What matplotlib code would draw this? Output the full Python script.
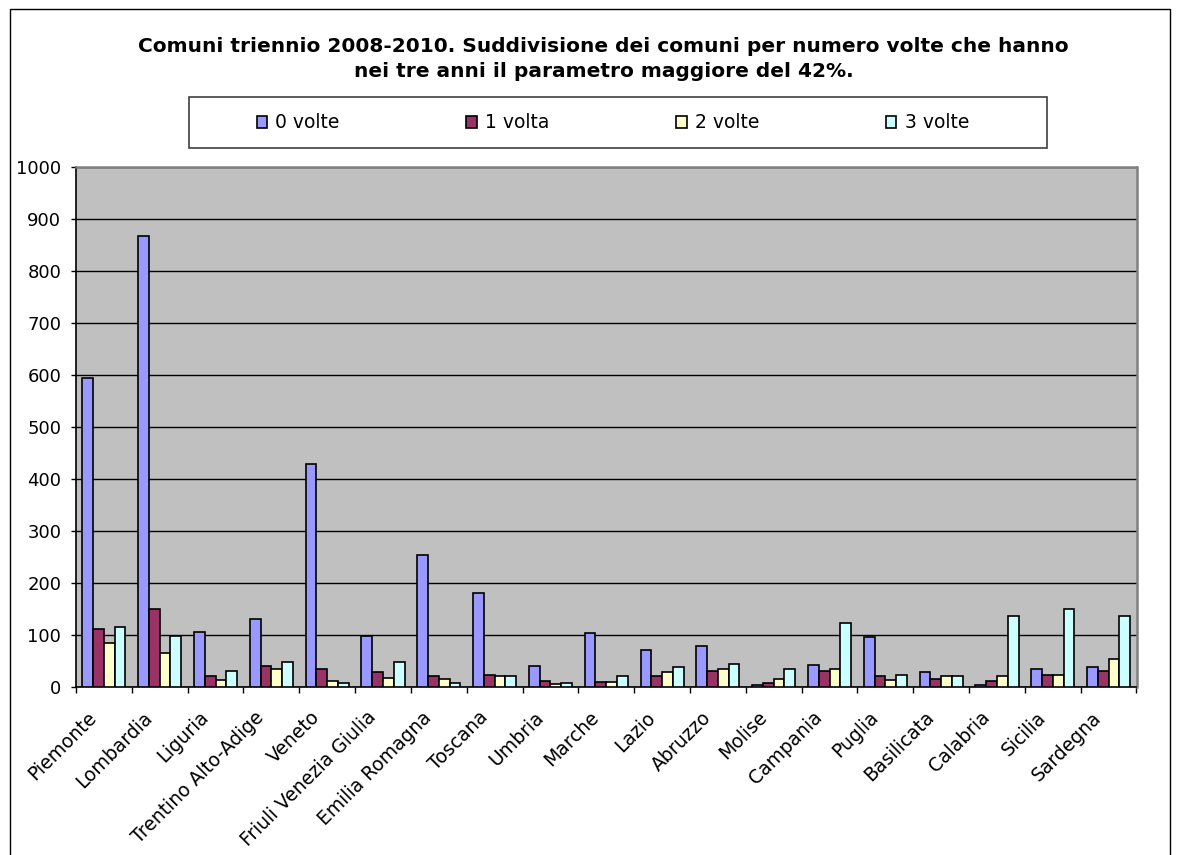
import matplotlib
matplotlib.use("Agg")
import matplotlib.pyplot as plt
import numpy as np
from matplotlib.patches import Rectangle
from matplotlib.transforms import ScaledTranslation

regions = ["Piemonte", "Lombardia", "Liguria", "Trentino Alto-Adige", "Veneto",
           "Friuli Venezia Giulia", "Emilia Romagna", "Toscana", "Umbria", "Marche",
           "Lazio", "Abruzzo", "Molise", "Campania", "Puglia", "Basilicata",
           "Calabria", "Sicilia", "Sardegna"]
volte0 = [594, 866, 105, 129, 428, 98, 252, 180, 40, 102, 71, 77, 3, 41, 95, 27, 3, 34, 37]
volte1 = [111, 149, 20, 40, 34, 27, 20, 23, 10, 9, 20, 30, 7, 30, 20, 14, 10, 23, 30]
volte2 = [84, 64, 13, 34, 10, 17, 14, 20, 4, 9, 27, 34, 14, 34, 13, 20, 20, 23, 52]
volte3 = [115, 98, 30, 48, 6, 48, 6, 20, 7, 20, 37, 44, 34, 122, 23, 20, 135, 149, 135]
series_names = ["0 volte", "1 volta", "2 volte", "3 volte"]
colors = ["#9999FF", "#993366", "#FFFFCC", "#CCFFFF"]
title_lines = ["Comuni triennio 2008-2010. Suddivisione dei comuni per numero volte che hanno",
               "nei tre anni il parametro maggiore del 42%."]

plt.rcParams['font.family'] = ['DejaVu Sans']

W, H = 1184, 855
fig = plt.figure(figsize=(W / 100, H / 100), dpi=100)
fig.patch.set_facecolor("white")
# outer chart border
fig.patches.append(Rectangle((10 / W, -0.05), 1160 / W, 1 - 9 / H + 0.05,
                             transform=fig.transFigure, fill=False,
                             edgecolor="black", linewidth=1))

left, right, top, bottom = 76, 1136.5, 166.5, 686.5
ax = fig.add_axes([left / W, 1 - bottom / H, (right - left) / W, (bottom - top) / H])
ax.set_facecolor("#C0C0C0")

n = len(regions)
x = np.arange(n)
bw = 0.193
data = [volte0, volte1, volte2, volte3]
for k, (vals, c, name) in enumerate(zip(data, colors, series_names)):
    ax.bar(x + (k - 1.5) * bw, vals, width=bw, color=c, edgecolor="black",
           linewidth=1.2, label=name, zorder=3)

ax.set_xlim(-0.5, n - 0.5)
ax.set_ylim(0, 1000)
ax.set_yticks(np.arange(0, 1001, 100))
ax.yaxis.grid(True, color="black", linewidth=1, zorder=1)
ax.set_axisbelow(True)
ax.tick_params(axis="y", direction="out", length=3.6, width=1, labelsize=13, pad=7)

ax.set_xticks(x)
ax.set_xticklabels(regions, rotation=45, ha="right", va="center",
                   rotation_mode="anchor", fontsize=13.5)
ax.tick_params(axis="x", which="major", length=0, pad=0)
off = ScaledTranslation(-10 / 100, -28 / 100, fig.dpi_scale_trans)
for lab in ax.get_xticklabels():
    lab.set_transform(lab.get_transform() + off)
ax.set_xticks(np.arange(-0.5, n, 1.0), minor=True)
ax.tick_params(axis="x", which="minor", direction="out", length=4.3, width=1)

for s in ["left", "bottom"]:
    ax.spines[s].set_color("black")
    ax.spines[s].set_linewidth(1.2)
for s in ["top", "right"]:
    ax.spines[s].set_color("#808080")
    ax.spines[s].set_linewidth(1.8)

cx = 603.5 / W
fig.text(cx, 1 - 52.5 / H, title_lines[0], ha="center", va="baseline",
         fontsize=14.5, fontweight="bold")
fig.text(cx, 1 - 76.5 / H, title_lines[1], ha="center", va="baseline",
         fontsize=14.5, fontweight="bold")

# legend frame
fig.patches.append(Rectangle((189 / W, 1 - 148.5 / H), (1047 - 189) / W, (148.5 - 97.5) / H,
                             transform=fig.transFigure, fill=False,
                             edgecolor="#404040", linewidth=1.2))
fs = 13.5
leg = fig.legend(loc="center", bbox_to_anchor=(613 / W, 1 - 123 / H), ncol=4,
                 fontsize=fs, frameon=False,
                 handlelength=0.55, handleheight=0.55, handletextpad=0.46,
                 columnspacing=6.75, borderpad=0)

fig.savefig("out.png", dpi=100)
